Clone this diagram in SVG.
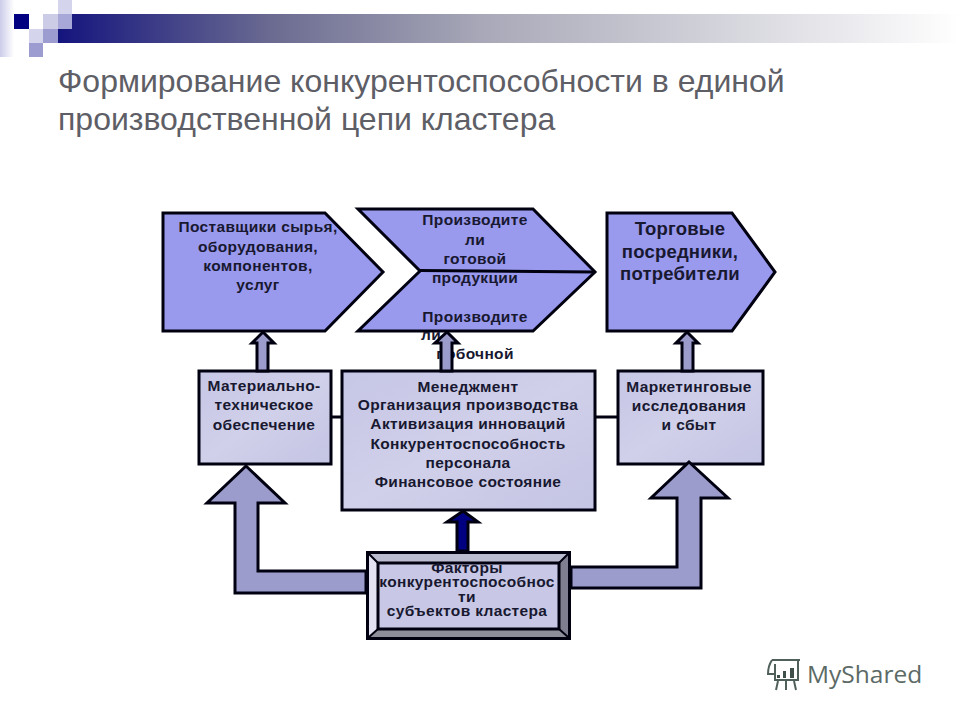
<svg xmlns="http://www.w3.org/2000/svg" width="960" height="720" viewBox="0 0 960 720">
<style>
.n{fill:#9999ee;stroke:#000010;stroke-width:3;stroke-linejoin:miter}
.b{fill:url(#boxg);stroke:#000010;stroke-width:3}
.a{fill:#9c9ccc;stroke:#000010;stroke-width:3;stroke-linejoin:miter}
.l{stroke:#000010;stroke-width:3;fill:none}
text{font-family:"Liberation Sans",Arial,sans-serif;font-weight:bold;font-size:15.5px;letter-spacing:.35px;fill:#181830;text-anchor:middle}
.t{font-weight:normal;font-size:32px;letter-spacing:0;fill:#5e5e66;text-anchor:start}
.g{font-size:18.5px;letter-spacing:.2px}
.w{font-family:"Open Sans",sans-serif;font-weight:normal;font-size:24.5px;letter-spacing:0;fill:#5c6a66;text-anchor:start}
</style>
<defs>
<linearGradient id="bar" x1="58" x2="960" y1="0" y2="0" gradientUnits="userSpaceOnUse">
<stop offset="0" stop-color="#14147e"/><stop offset="0.24" stop-color="#6c6c92"/><stop offset="0.47" stop-color="#a8a8b8"/><stop offset="1" stop-color="#ffffff"/>
</linearGradient>
<linearGradient id="side" x1="0" x2="1" y1="0" y2="0">
<stop offset="0" stop-color="#ccccea"/><stop offset="1" stop-color="#ffffff"/>
</linearGradient>
<linearGradient id="boxg" x1="0" x2="1" y1="0" y2="1">
<stop offset="0" stop-color="#c6c6e6"/><stop offset="0.5" stop-color="#d0d0ea"/><stop offset="1" stop-color="#c4c4e4"/>
</linearGradient>
</defs>
<rect width="960" height="720" fill="#ffffff"/>
<g id="header">
<rect x="0" y="0" width="14" height="57" fill="url(#side)"/>
<rect x="58" y="14" width="902" height="29" fill="url(#bar)"/>
<rect x="14" y="14" width="15" height="15" fill="#000080"/>
<rect x="43" y="14" width="15" height="15" fill="#ccccE6"/>
<rect x="58" y="0" width="14" height="14" fill="#d4d4ec"/>
<rect x="58" y="14" width="14" height="15" fill="#a8a8d8"/>
<rect x="29" y="29" width="14" height="14" fill="#d4d4ec"/>
<rect x="43" y="29" width="15" height="14" fill="#9c9cd0"/>
<rect x="29" y="43" width="14" height="14" fill="#9c9cd0"/>
</g>
<g id="title">
<text class="t" x="58" y="92">Формирование конкурентоспособности в единой</text>
<text class="t" x="58" y="130">производственной цепи кластера</text>
</g>
<g id="suppliers">
<polygon class="n" points="163,213 325,213 383,272 325,331 163,331"/>
<text x="258" y="232">Поставщики сырья,</text>
<text x="258" y="252">оборудования,</text>
<text x="258" y="271">компонентов,</text>
<text x="258" y="290">услуг</text>
</g>
<g id="producers">
<polygon class="n" points="358,209 533,209 595,272 533,331 358,331 420,271"/>
<line class="l" x1="420" y1="270.5" x2="595" y2="272"/>
<text x="475" y="225">Производите</text>
<text x="475" y="245">ли</text>
<text x="475" y="264">готовой</text>
<text x="475" y="283">продукции</text>
<text x="475" y="322">Производите</text>
<text x="431" y="340">ли</text>
<text x="475" y="359">побочной</text>
</g>
<g id="traders">
<polygon class="n" points="607,213 732,213 775,272 732,331 607,331"/>
<text class="g" x="680" y="235">Торговые</text>
<text class="g" x="680" y="258">посредники,</text>
<text class="g" x="680" y="280">потребители</text>
</g>
<g id="material">
<rect class="b" x="199" y="371" width="132" height="93"/>
<text x="264" y="391">Материально-</text>
<text x="264" y="410">техническое</text>
<text x="264" y="430">обеспечение</text>
</g>
<g id="management">
<rect class="b" x="342" y="371" width="253" height="139"/>
<text x="468" y="392">Менеджмент</text>
<text x="468" y="410">Организация производства</text>
<text x="468" y="429">Активизация инноваций</text>
<text x="468" y="449">Конкурентоспособность</text>
<text x="468" y="468">персонала</text>
<text x="468" y="487">Финансовое состояние</text>
</g>
<g id="marketing">
<rect class="b" x="618" y="371" width="145" height="93"/>
<text x="689" y="392">Маркетинговые</text>
<text x="689" y="411">исследования</text>
<text x="689" y="430">и сбыт</text>
</g>
<g id="connectors">
<line class="l" x1="331" y1="417" x2="342" y2="417"/>
<line class="l" x1="595" y1="417" x2="618" y2="417"/>
<polygon class="a" points="263,332 274,343 268,343 268,371 257,371 257,343 252,343"/>
<polygon class="a" points="447,332 458,343 452,343 452,371 441,371 441,343 435,343"/>
<polygon class="a" points="687,332 698,343 693,343 693,371 682,371 682,343 676,343"/>
<polygon class="a" points="246,466 285,503 258,503 258,571 366,571 366,593 235,593 235,503 207,503"/>
<polygon class="a" points="689,462 728,498 701,498 701,588 571,588 571,567 677,567 677,498 651,498"/>
<polygon fill="#000080" stroke="#000010" stroke-width="3" points="463,511 478,522 468,522 468,551 457,551 457,522 447,522"/>
</g>
<g id="factors">
<rect x="366" y="551" width="205" height="89" fill="#000010"/>
<polygon points="369,554 568,554 558,563 378,563" fill="#bcbcd0"/>
<polygon points="369,554 378,563 378,629 369,637" fill="#e2e2f2"/>
<polygon points="568,554 568,637 559,629 559,563" fill="#7e7e90"/>
<polygon points="369,637 378,629 559,629 568,637" fill="#8e8e9a"/>
<rect x="378" y="563" width="181" height="66" fill="#c8c8e6" stroke="#000010" stroke-width="3"/>
<path d="M369,554 L378,563 M568,554 L559,563 M369,637 L378,629 M568,637 L559,629" stroke="#000010" stroke-width="2" fill="none"/>
<text x="467" y="573">Факторы</text>
<text x="467" y="587">конкурентоспособнос</text>
<text x="467" y="602">ти</text>
<text x="467" y="616">субъектов кластера</text>
</g>
<g id="watermark">
<g fill="none" stroke="#4f5f5a" stroke-width="2">
<path d="M772,660 H800 M775,664 V680 H798 V661"/>
<path d="M772,660 Q768,666 768,674 H775"/>
<path d="M778,681 L776,690 M786,681 V690 M794,681 L796,690"/>
</g>
<g fill="#3f4f4a">
<rect x="777" y="675" width="3" height="3"/>
<rect x="783" y="671" width="3" height="7"/>
<rect x="790" y="668" width="4" height="10"/>
</g>
<text class="w" x="807" y="683">MyShared</text>
</g>
</svg>
